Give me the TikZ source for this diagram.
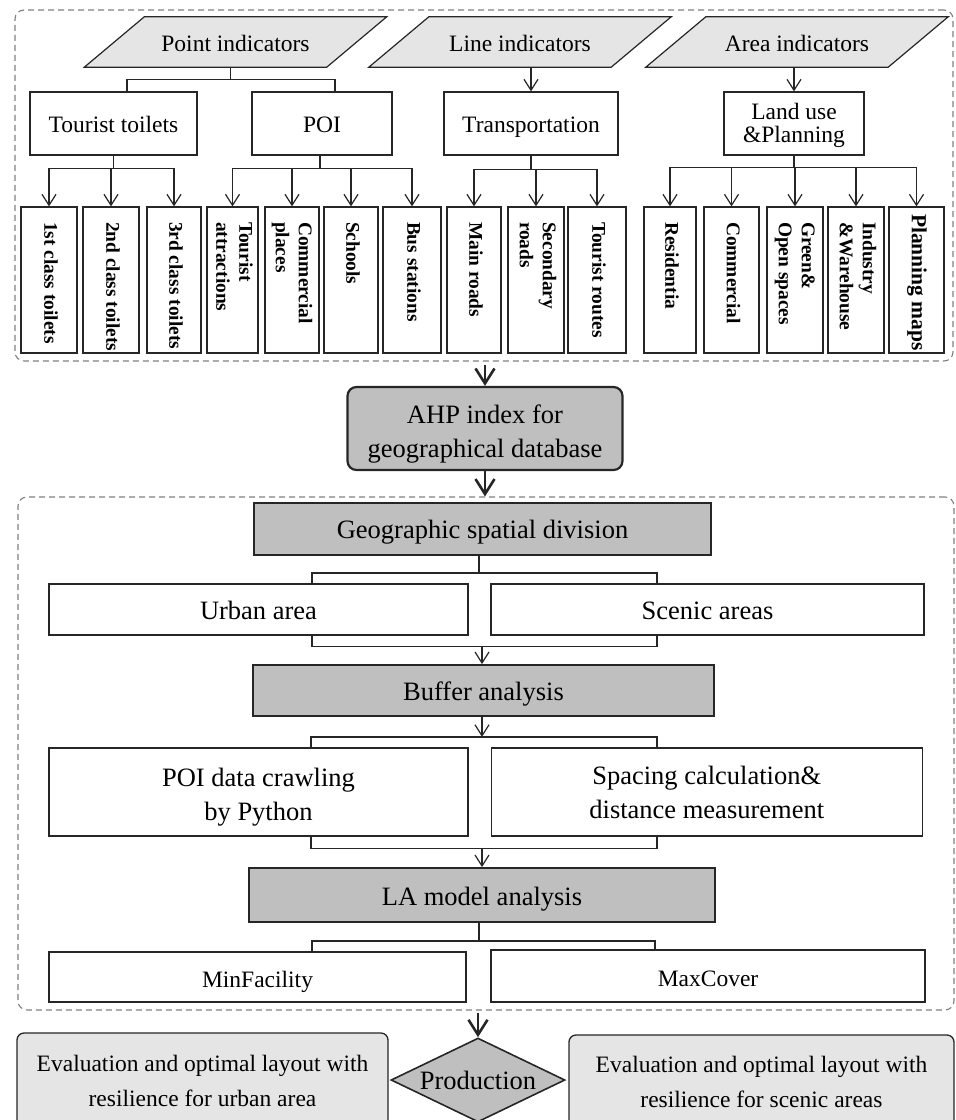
\documentclass[tikz,border=0pt]{standalone}
\usepackage{fontspec}
\usepackage{graphicx}
\setmainfont{Liberation Serif}
\usetikzlibrary{arrows.meta,shapes.geometric,backgrounds,calc}
\newcommand\tfont{\fontsize{23.5}{22}\selectfont}
\newcommand\lfont{\fontsize{26.5}{34}\selectfont}
\newcommand\sfont{\fontsize{23.5}{35}\selectfont}
\newcommand\bfnt{\fontsize{19.4}{23}\selectfont\bfseries}
\newcommand\vt[2][10pt]{\rotatebox{-90}{\makebox[136pt][l]{\hspace*{#1}\bfnt\begin{tabular}{@{}l@{}}#2\end{tabular}}}}
\newcommand\dn[2]{\raisebox{-#1}[\height][\depth]{\begin{tabular}{@{}c@{}}#2\end{tabular}}}
\tikzset{
  ln/.style={line width=1.2pt, draw=black!85},
  arr/.style={ln, -{Straight Barb[length=11pt,width=14pt]}},
  bigarr/.style={line width=2.6pt, draw=black!85, -{Straight Barb[length=15pt,width=19pt]}},
  box/.style={draw=black!85, line width=1.2pt, fill=white, inner sep=0pt, align=center},
  one/.style={text height=#1, text depth=2pt},
  vbox/.style={box, minimum height=146pt},
  gbox/.style={box, fill=black!25, line width=1.8pt},
  para/.style={draw=black!85, line width=1.2pt, fill=black!10},
  ptext/.style={inner sep=0pt, minimum width=242pt, minimum height=50pt, font=\tfont, one=21pt},
  dbox/.style={draw=black!50, line width=1.1pt, dash pattern=on 6pt off 4pt, rounded corners=9pt, inner sep=0pt},
  evbox/.style={draw=black!85, line width=1.3pt, fill=black!10, rounded corners=7pt, inner sep=0pt, align=center, font=\sfont},
}
\begin{document}
\begin{tikzpicture}[x=1pt,y=-1pt]
\useasboundingbox (0,0) rectangle (956,1120);
% dashed frames
\node[dbox, minimum width=938pt, minimum height=351pt] (top) at (484,185.5) {};
\node[dbox, minimum width=936pt, minimum height=513pt] (mid) at (486,753.5) {};

% indicator parallelograms
\node[ptext] (pi) at (235.5,42) {Point indicators};
\node[ptext] (li) at (520,42) {Line indicators};
\node[ptext] (ai) at (797,42) {Area indicators};
\begin{scope}[on background layer]
\foreach \n in {pi,li,ai}
  \draw[para] ([xshift=-30pt]\n.south west) -- ([xshift=-30pt]\n.south east)
     -- ([xshift=30pt]\n.north east) -- ([xshift=30pt]\n.north west) -- cycle;
\end{scope}

% level 2
\node[box, one=19pt, font=\tfont, minimum width=167pt, minimum height=63pt] (tt) at (113.5,123.5) {Tourist toilets};
\node[box, one=19pt, font=\tfont, minimum width=140pt, minimum height=63pt] (poi) at (322,123.5) {POI};
\node[box, one=19pt, font=\tfont, minimum width=174pt, minimum height=63pt] (tr) at (531,123.5) {Transportation};
\node[box, font=\tfont, minimum width=140pt, minimum height=63pt] (lu) at (794,123.5) {\dn{3pt}{Land use\\\&Planning}};

% level 3 (vertical)
\node[vbox, minimum width=56pt] (t1) at (49,280) {\vt{1st class toilets}};
\node[vbox, minimum width=56pt] (t2) at (111,280) {\vt{2nd class toilets}};
\node[vbox, minimum width=54pt] (t3) at (174,280) {\vt{3rd class toilets}};
\node[vbox, minimum width=51pt] (ta) at (232.5,280) {\vt{Tourist\\attractions}};
\node[vbox, minimum width=54pt] (cp) at (292,280) {\vt{Commercial\\places}};
\node[vbox, minimum width=54pt] (sc) at (351,280) {\vt{Schools}};
\node[vbox, minimum width=58pt] (bs) at (412,280) {\vt{Bus stations}};
\node[vbox, minimum width=54pt] (mr) at (474,280) {\vt{Main roads}};
\node[vbox, minimum width=56pt] (sr) at (536,280) {\vt{Secondary\\roads}};
\node[vbox, minimum width=58pt] (trt) at (597,280) {\vt{Tourist routes}};
\node[vbox, minimum width=52pt] (res) at (670,280) {\vt{Residentia}};
\node[vbox, minimum width=55pt] (com) at (731.5,280) {\vt{Commercial}};
\node[vbox, minimum width=56pt] (gr) at (795,280) {\vt{Green\&\\Open spaces}};
\node[vbox, minimum width=56pt] (ind) at (856,280) {\vt{Industry\\\&Warehouse}};
\node[vbox, minimum width=55pt] (pm) at (916.5,280) {\vt[2pt]{\fontsize{21.5}{23}\selectfont Planning maps}};

% top connectors
\draw[ln] ([xshift=-5pt]pi.south) -- ++(0,12) coordinate (pb);
\draw[ln] ([xshift=13.5pt]tt.north) |- (pb) -| ([xshift=13pt]poi.north);
\draw[arr] (li.south -| tr.north) -- (tr.north);
\draw[arr] (ai.south -| lu.north) -- (lu.north);

\draw[ln] (tt.south) -- ++(0,13) coordinate (ttb);
\foreach \c in {t1,t2,t3} \draw[arr] (ttb) -| (\c.north);
\draw[ln] ([xshift=-2pt]poi.south) -- ++(0,13) coordinate (pob);
\foreach \c in {ta,cp,sc,bs} \draw[arr] (pob) -| (\c.north);
\draw[ln] (tr.south) -- ++(0,14) coordinate (trb);
\foreach \c in {mr,sr,trt} \draw[arr] (trb) -| (\c.north);
\draw[ln] (lu.south) -- ++(0,12) coordinate (lub);
\foreach \c in {res,com,gr,ind,pm} \draw[arr] (lub) -| (\c.north);

% AHP
\node[gbox, line width=2.2pt, rounded corners=9pt, font=\lfont, minimum width=275pt, minimum height=83pt] (ahp) at (485,428.5) {\dn{5pt}{AHP index for\\geographical database}};
\draw[bigarr] ([yshift=-3pt]top.south -| ahp.north) -- (ahp.north);
\draw[bigarr] (ahp.south) -- (ahp.south |- mid.north);

% middle section
\node[gbox, one=20pt, font=\lfont, minimum width=457pt, minimum height=52pt] (geo) at (482.5,529) {Geographic spatial division};
\node[box, one=22pt, font=\lfont, minimum width=419pt, minimum height=51pt] (ua) at (258.5,609.5) {Urban area};
\node[box, one=22pt, font=\lfont, minimum width=433pt, minimum height=51pt] (sa) at (707.5,609.5) {Scenic areas};
\node[gbox, one=22pt, font=\lfont, minimum width=461pt, minimum height=51pt] (buf) at (483.5,690.5) {Buffer analysis};
\node[box, font=\lfont, minimum width=419pt, minimum height=88pt] (pdc) at (258.5,792) {\dn{5pt}{POI data crawling\\by Python}};
\node[box, font=\lfont, minimum width=431pt, minimum height=88pt] (spc) at (706.75,792) {\dn{3pt}{Spacing calculation\&\\distance measurement}};
\node[gbox, one=22pt, font=\lfont, minimum width=466pt, minimum height=54pt] (la) at (482,895) {LA model analysis};
\node[box, one=22pt, font=\sfont, minimum width=417pt, minimum height=50pt] (mf) at (257.5,977) {MinFacility};
\node[box, one=22pt, font=\sfont, minimum width=434pt, minimum height=52pt] (mc) at (708,976) {MaxCover};

\draw[ln] ([xshift=-3.5pt]geo.south) -- ++(0,17) coordinate (g1);
\draw[ln] ([xshift=53.5pt]ua.north) |- (g1) -| ([xshift=-50.5pt]sa.north);
\draw[ln] ([xshift=53.5pt]ua.south) -- ++(0,11) coordinate (u1) -| ([xshift=-50.5pt]sa.south);
\draw[arr] ([xshift=-1.5pt]u1 -| buf.north) -- ([xshift=-1.5pt]buf.north);

\draw[arr] ([xshift=-1.5pt]buf.south) -- ++(0,20) coordinate (b1);
\draw[ln] ([xshift=52.5pt]pdc.north) |- (b1) -| ([xshift=-49.75pt]spc.north);
\draw[ln] ([xshift=52.5pt]pdc.south) -- ++(0,12) coordinate (p1) -| ([xshift=-49.75pt]spc.south);
\draw[arr] (p1 -| la.north) -- (la.north);

\draw[ln] ([xshift=-3pt]la.south) -- ++(0,18) coordinate (l1);
\draw[ln] ([xshift=54.5pt]mf.north) |- (l1) -| ([xshift=-53pt]mc.north);

% bottom
\node[diamond, aspect=2, draw=black!85, line width=1.6pt, fill=black!25, inner sep=0pt, minimum width=174pt, minimum height=84pt, font=\lfont] (prod) at (478,1080) {Production};
\draw[bigarr] ([yshift=-2pt]mid.south -| prod.north) -- (prod.north);
\node[evbox, minimum width=371pt, minimum height=96pt] (ev1) at (202.5,1081) {Evaluation and optimal layout with\\resilience for urban area};
\node[evbox, minimum width=385pt, minimum height=94pt] (ev2) at (761.5,1082) {Evaluation and optimal layout with\\resilience for scenic areas};
\end{tikzpicture}
\end{document}
